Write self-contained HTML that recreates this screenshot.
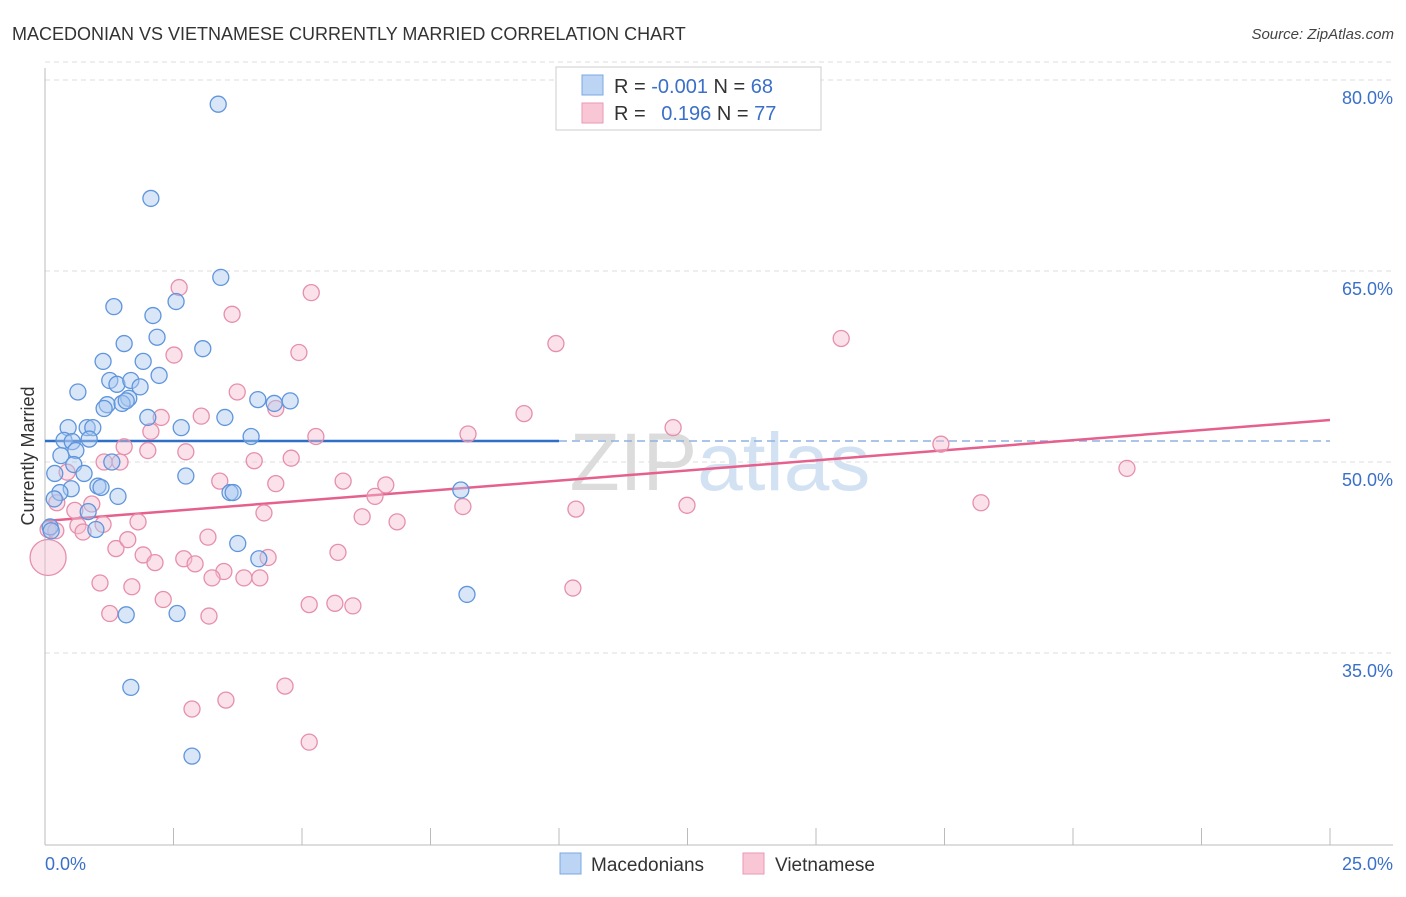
<!DOCTYPE html>
<html><head><meta charset="utf-8"><style>
body{margin:0;background:#fff;font-family:"Liberation Sans",sans-serif;}
svg text{font-family:"Liberation Sans",sans-serif;}
</style></head><body>
<svg id="chart" width="1406" height="892" viewBox="0 0 1406 892" xmlns="http://www.w3.org/2000/svg">
<text x="12" y="40" font-size="18" fill="#333">MACEDONIAN VS VIETNAMESE CURRENTLY MARRIED CORRELATION CHART</text>
<text x="1394" y="39" font-size="15" fill="#444" text-anchor="end" font-style="italic">Source: ZipAtlas.com</text>
<text x="720" y="490" font-size="82" text-anchor="middle" fill="#e6e6e6" font-family="Liberation Serif"><tspan fill="#dcdcdc">ZIP</tspan><tspan fill="#d3e2f3" font-family="Liberation Sans">atlas</tspan></text>
<g id="grid"></g>
<g id="axes"></g>
<g id="trend"></g>
<g id="points"></g>
<text transform="translate(34,456) rotate(-90)" font-size="18" fill="#333" text-anchor="middle">Currently Married</text>
<g>
<rect x="556" y="67" width="265" height="63" fill="#fff" stroke="#ccc"/>
<rect x="582" y="75" width="21" height="20" fill="#bcd5f5" stroke="#7aa8e0"/>
<rect x="582" y="103" width="21" height="20" fill="#f9c6d5" stroke="#e99ab3"/>
<text x="614" y="93" font-size="20" fill="#333">R = <tspan fill="#3a70c8">-0.001</tspan>   N = <tspan fill="#3a70c8">68</tspan></text>
<text x="614" y="120" font-size="20" fill="#333">R =   <tspan fill="#3a70c8" dx="10">0.196</tspan>   N = <tspan fill="#3a70c8">77</tspan></text>
</g>
<g>
<rect x="560" y="853" width="21" height="21" fill="#bcd5f5" stroke="#7aa8e0"/>
<text x="591" y="871" font-size="19" fill="#333">Macedonians</text>
<rect x="743" y="853" width="21" height="21" fill="#f9c6d5" stroke="#e99ab3"/>
<text x="775" y="871" font-size="19" fill="#333">Vietnamese</text>
</g>
</svg>
<script>
const yTicks=[35,50,65,80];
const yTickLabels=["35.0%","50.0%","65.0%","80.0%"];
const xEndLabels=["0.0%","25.0%"];
const macX=[3.37,2.06,3.42,1.34,2.55,2.10,2.18,1.54,3.07,1.13,1.91,2.22,1.26,1.40,1.67,1.85,0.64,1.63,1.21,1.15,1.50,1.58,4.14,4.46,4.77,2.00,3.50,0.45,0.82,0.93,2.65,0.37,0.53,0.86,4.01,0.31,0.60,1.30,0.56,0.76,2.74,0.19,1.03,1.09,0.51,1.42,3.60,3.66,0.29,0.18,8.09,0.84,0.99,0.10,0.12,3.75,4.16,8.21,1.58,2.57,1.67,2.86];
const macY=[78.1,70.7,64.5,62.2,62.6,61.5,59.8,59.3,58.9,57.9,57.9,56.8,56.4,56.1,56.4,55.9,55.5,55.0,54.5,54.2,54.6,54.8,54.9,54.6,54.8,53.5,53.5,52.7,52.7,52.7,52.7,51.7,51.6,51.8,52.0,50.5,50.9,50.0,49.8,49.1,48.9,49.1,48.1,48.0,47.9,47.3,47.6,47.6,47.6,47.1,47.8,46.1,44.7,44.9,44.6,43.6,42.4,39.6,38.0,38.1,32.3,26.9];
const vieX=[2.61,5.18,3.64,4.94,2.51,9.94,15.49,3.74,4.49,2.26,9.32,3.04,2.06,5.27,8.23,12.22,17.43,1.54,2.00,2.74,4.79,1.15,1.46,4.07,21.05,0.43,3.40,5.80,4.49,6.63,6.42,0.91,0.23,8.13,10.33,12.49,18.21,0.58,4.26,6.17,6.85,1.81,0.64,1.13,0.74,0.06,0.21,3.17,1.38,1.61,5.70,1.91,2.14,2.70,2.92,4.34,3.48,3.25,3.87,4.18,1.07,1.69,10.27,2.30,5.14,5.64,5.99,1.26,3.19,4.67,3.52,2.86,5.14,0.06];
const vieY=[63.7,63.3,61.6,58.6,58.4,59.3,59.7,55.5,54.2,53.5,53.8,53.6,52.4,52.0,52.2,52.7,51.4,51.2,50.9,50.8,50.3,50.0,50.0,50.1,49.5,49.2,48.5,48.5,48.3,48.2,47.3,46.7,46.8,46.5,46.3,46.6,46.8,46.2,46.0,45.7,45.3,45.3,45.0,45.1,44.5,44.7,44.6,44.1,43.2,43.9,42.9,42.7,42.1,42.4,42.0,42.5,41.4,40.9,40.9,40.9,40.5,40.2,40.1,39.2,38.8,38.9,38.7,38.1,37.9,32.4,31.3,30.6,28.0,42.5];
const macTrend=[51.65,51.65];
const vieTrend=[45.37,53.3];
const X=v=>45+v*51.4;
const Y=v=>462-(v-50)*12.733;
const NS="http://www.w3.org/2000/svg";
function mk(tag,attrs,parent){const e=document.createElementNS(NS,tag);for(const k in attrs)e.setAttribute(k,attrs[k]);parent.appendChild(e);return e;}
const grid=document.getElementById('grid'),axes=document.getElementById('axes'),trend=document.getElementById('trend'),pts=document.getElementById('points');
let g=mk('line',{x1:45,x2:1393,y1:Y(80)-18,y2:Y(80)-18,stroke:'#ddd','stroke-dasharray':'5,4'},grid);


yTicks.forEach((t,i)=>{
 const l=mk('line',{x1:45,x2:1393,y1:Y(t),y2:Y(t),stroke:'#ddd','stroke-dasharray':'5,4'},grid);
 
 
 const tx=mk('text',{x:1393,y:Y(t)+24,'font-size':18,fill:'#3a70c8','text-anchor':'end'},axes);
 tx.textContent=yTickLabels[i];
 
 
});
let a=mk('line',{x1:45,x2:45,y1:68,y2:845,stroke:'#bbb'},axes);


a=mk('line',{x1:45,x2:1393,y1:845,y2:845,stroke:'#bbb'},axes);


for(let i=0;i<=10;i++){const t=mk('line',{x1:X(i*2.5),x2:X(i*2.5),y1:828,y2:845,stroke:'#bbb'},axes);
 
 }
let xl=mk('text',{x:45,y:870,'font-size':18,fill:'#3a70c8'},axes);xl.textContent=xEndLabels[0];


xl=mk('text',{x:1393,y:870,'font-size':18,fill:'#3a70c8','text-anchor':'end'},axes);xl.textContent=xEndLabels[1];


function dot(x,y,r,f,s,name){const c=mk('circle',{cx:X(x),cy:Y(y),r:r,fill:f,'fill-opacity':0.45,stroke:s,'stroke-width':1.3},pts);
 
 }
vieX.forEach((x,i)=>dot(x,vieY[i],i===vieX.length-1?18:8,'#f7bfd0','#e68fab','point-vietnamese'));
macX.forEach((x,i)=>dot(x,macY[i],8,'#a9c8f0','#5f95dc','point-macedonian'));
let t=mk('line',{x1:X(0),x2:X(10),y1:Y(macTrend[0]),y2:Y(macTrend[0]),stroke:'#2f6fc6','stroke-width':2.5},trend);


t=mk('line',{x1:X(10),x2:X(25),y1:Y(macTrend[0]),y2:Y(macTrend[1]),stroke:'#8fb2e3','stroke-width':1.5,'stroke-dasharray':'8,5'},trend);


t=mk('line',{x1:X(0),x2:X(25),y1:Y(vieTrend[0]),y2:Y(vieTrend[1]),stroke:'#e5608c','stroke-width':2.5},trend);


</script>
</body></html>
